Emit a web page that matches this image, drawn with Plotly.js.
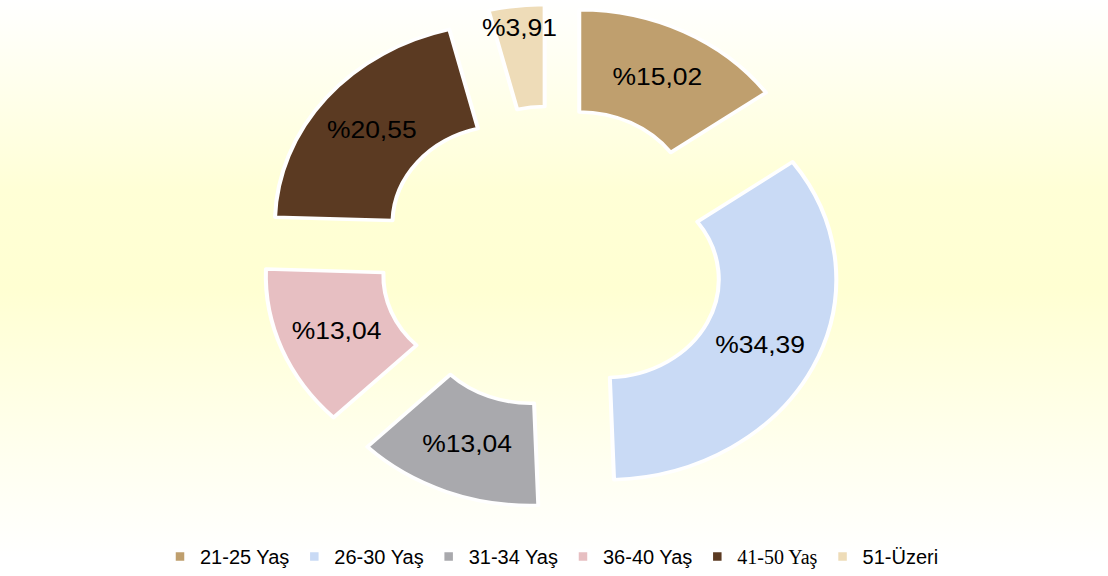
<!DOCTYPE html>
<html>
<head>
<meta charset="utf-8">
<script src="https://cdn.plot.ly/plotly-3.0.1.min.js"></script>
<style>
  html, body { margin: 0; padding: 0; }
  body {
    width: 1108px; height: 576px; overflow: hidden;
    background: linear-gradient(to bottom, #ffffff 0%, #fffff0 12%, #ffffd6 33%, #ffffd2 50%, #fffff0 80%, #ffffff 97%);
  }
  #chart { width: 1108px; height: 576px; }
  /* the reference doughnut is drawn slightly wider than tall */
  #chart .svg-container > svg.main-svg:first-of-type {
    transform: scaleX(1.15);
    transform-origin: 552px 0px;
  }
</style>
</head>
<body>
<div id="chart"></div>
<script>
// Data
const categories = ["21-25 Yaş", "26-30 Yaş", "31-34 Yaş", "36-40 Yaş", "41-50 Yaş", "51-Üzeri"];
const values = [15.02, 34.39, 13.04, 13.04, 20.55, 3.91];
const colors = ["#BF9F6E", "#C9DAF5", "#A9A9AD", "#E7BFC2", "#5B3A22", "#EEDCB8"];

// Derived display strings
const valueLabels = values.map(v => "%" + v.toFixed(2).replace(".", ","));
const legendLabels = categories.map(c => c === "41-50 Yaş"
  ? '<span style="font-family:\'Liberation Serif\', \'DejaVu Serif\', serif">' + c + '</span>'
  : c);

const trace = {
  type: "pie",
  labels: legendLabels,
  values: values,
  text: valueLabels,
  textinfo: "text",
  textposition: "inside",
  insidetextorientation: "horizontal",
  insidetextfont: { family: "Liberation Sans, Arial, sans-serif", size: 23, color: "#000000" },
  hole: 0.49,
  pull: 0.26,
  sort: false,
  direction: "clockwise",
  rotation: 0,
  marker: { colors: colors, line: { color: "#ffffff", width: 3.5 } },
  hoverinfo: "label+text",
  showlegend: true
};

const layout = {
  width: 1108,
  height: 576,
  paper_bgcolor: "rgba(0,0,0,0)",
  plot_bgcolor: "rgba(0,0,0,0)",
  margin: { l: 0, r: 4, t: 4, b: 66 },
  uniformtext: { minsize: 23, mode: "show" },
  showlegend: true,
  legend: {
    orientation: "h",
    x: 0.5, xanchor: "center",
    y: -0.095, yanchor: "middle",
    font: { family: "Liberation Sans, Arial, sans-serif", size: 20, color: "#000000" },
    itemwidth: 30,
    tracegroupgap: 0,
    bgcolor: "rgba(0,0,0,0)"
  }
};

Plotly.newPlot("chart", [trace], layout, { displayModeBar: false, staticPlot: true });
</script>
</body>
</html>
